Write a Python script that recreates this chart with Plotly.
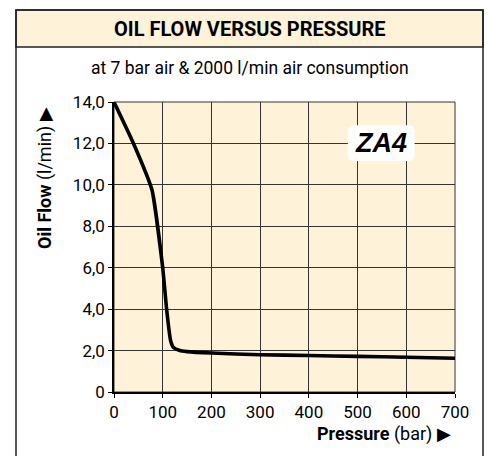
import plotly.graph_objects as go

# Oil flow curve (pressure in bar, flow in l/min)
pressure = [0, 40, 78, 100, 108, 116, 122, 135, 150, 200, 300, 400, 500, 600, 700]
oil_flow = [14.0, 12.0, 9.75, 6.0, 4.0, 2.5, 2.15, 2.0, 1.95, 1.88, 1.8, 1.76, 1.72, 1.68, 1.63]

x_ticks = [0, 100, 200, 300, 400, 500, 600, 700]
y_ticks = [0, 2, 4, 6, 8, 10, 12, 14]
y_tick_text = ["0", "2,0", "4,0", "6,0", "8,0", "10,0", "12,0", "14,0"]

title_text = "OIL FLOW VERSUS PRESSURE"
subtitle_text = "at 7 bar air &amp; 2000 l/min air consumption"
model_label = "ZA4"

BEIGE = "#FEF3D8"
FONT = "Roboto, Liberation Sans, Arial"

W, H = 487, 456
L, R, T, B = 114, 32, 102, 64
PW, PH = W - L - R, H - T - B


def px(x):
    return (x - L) / PW


def py(y):
    return (H - B - y) / PH


fig = go.Figure()
fig.add_trace(go.Scatter(
    x=pressure, y=oil_flow, mode="lines",
    line=dict(color="black", width=3.6, shape="spline", smoothing=0.4),
    hoverinfo="skip", showlegend=False,
))

shapes = []
# outer frame and header band
shapes.append(dict(type="rect", xref="paper", yref="paper",
                   x0=px(16), x1=px(483), y0=py(10), y1=py(47),
                   fillcolor=BEIGE, line=dict(color="#222", width=1.5), layer="below"))
shapes.append(dict(type="rect", xref="paper", yref="paper",
                   x0=px(16), x1=px(483), y0=py(10), y1=py(475),
                   fillcolor="rgba(0,0,0,0)", line=dict(color="#222", width=1.5), layer="below"))
# plot-area frame
shapes.append(dict(type="rect", xref="paper", yref="paper", x0=0, x1=1, y0=0, y1=1,
                   line=dict(color="#333", width=1), layer="below"))

# rounded white badge behind the model label
bx0, bx1, by0, by1 = 480, 617, 11.15, 12.88
rx, ry = 12, 0.3
path = (f"M {bx0+rx},{by0} L {bx1-rx},{by0} Q {bx1},{by0} {bx1},{by0+ry} "
        f"L {bx1},{by1-ry} Q {bx1},{by1} {bx1-rx},{by1} "
        f"L {bx0+rx},{by1} Q {bx0},{by1} {bx0},{by1-ry} "
        f"L {bx0},{by0+ry} Q {bx0},{by0} {bx0+rx},{by0} Z")
shapes.append(dict(type="path", xref="x", yref="y", path=path,
                   fillcolor="white", line=dict(width=0), layer="above"))

annotations = [
    dict(text=f"<b>{title_text}</b>", xref="paper", yref="paper",
         x=px(249.5), y=py(29), xanchor="center", yanchor="middle", showarrow=False,
         font=dict(family=FONT, size=20, color="black")),
    dict(text=subtitle_text, xref="paper", yref="paper",
         x=px(249.5), y=py(68), xanchor="center", yanchor="middle", showarrow=False,
         font=dict(family=FONT, size=17.5, color="black")),
    dict(text="<b>Oil Flow</b> (l/min) ▶", xref="paper", yref="paper",
         x=px(45), y=py(178), xanchor="center", yanchor="middle",
         textangle=-90, showarrow=False,
         font=dict(family=FONT, size=18, color="black")),
    dict(text="<b>Pressure</b> (bar) ▶", xref="paper", yref="paper",
         x=px(453), y=py(434), xanchor="right", yanchor="middle", showarrow=False,
         font=dict(family=FONT, size=18, color="black")),
    dict(text=f"<b><i>{model_label}</i></b>", xref="x", yref="y",
         x=548, y=12.0, xanchor="center", yanchor="middle", showarrow=False,
         font=dict(family="Liberation Sans, Arial", size=27, color="black")),
]

fig.update_layout(
    width=W, height=H,
    margin=dict(l=L, r=R, t=T, b=B),
    paper_bgcolor="white", plot_bgcolor=BEIGE,
    shapes=shapes, annotations=annotations,
    showlegend=False,
)
fig.update_xaxes(
    range=[0, 700], tickvals=x_ticks, ticktext=[str(v) for v in x_ticks],
    showgrid=True, gridcolor="#333", gridwidth=1,
    showline=True, linecolor="black", linewidth=1.5,
    ticks="outside", ticklen=4, tickcolor="black",
    tickfont=dict(family=FONT, size=17, color="black"),
    zeroline=False, fixedrange=True,
)
fig.update_yaxes(
    range=[0, 14], tickvals=y_ticks, ticktext=y_tick_text,
    showgrid=True, gridcolor="#333", gridwidth=1,
    showline=True, linecolor="black", linewidth=1.5,
    ticks="outside", ticklen=4, tickcolor="black",
    tickfont=dict(family=FONT, size=17, color="black"),
    zeroline=False, fixedrange=True,
)

fig.write_html("out.html", config=dict(displayModeBar=False))
